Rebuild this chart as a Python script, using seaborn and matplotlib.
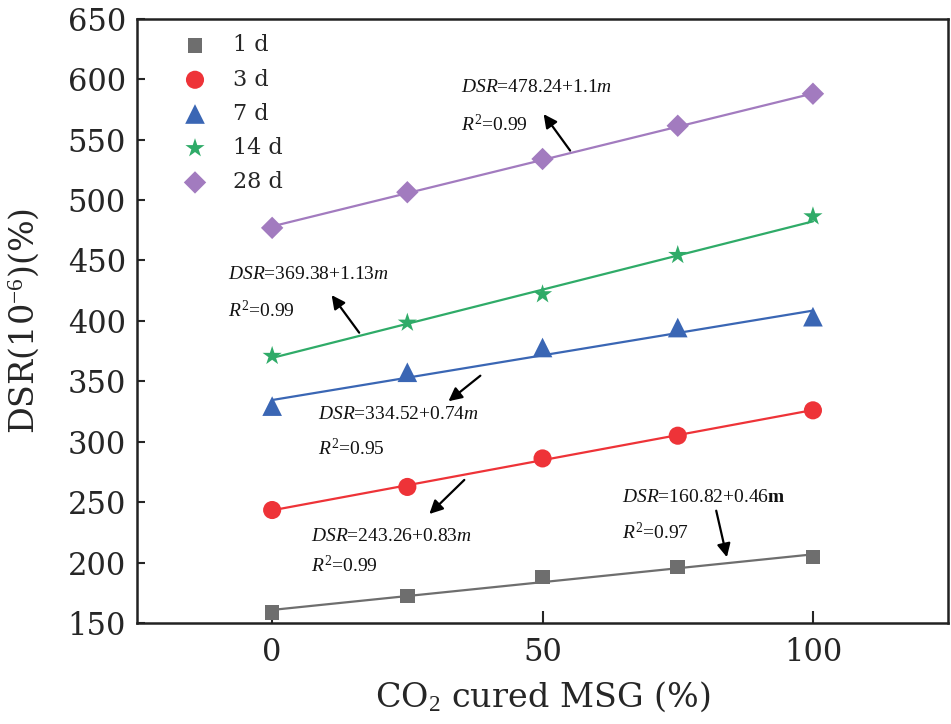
import numpy as np
import pandas as pd
import seaborn as sns
import matplotlib.pyplot as plt

# data
ages = ["1 d", "3 d", "7 d", "14 d", "28 d"]
msg = [0, 25, 50, 75, 100]
dsr_1d = [158.5, 172.4, 188.1, 196.4, 204.8]
dsr_3d = [243.5, 262.6, 286.2, 305.0, 326.0]
dsr_7d = [329.5, 357.5, 378.0, 394.5, 403.5]
dsr_14d = [371.0, 398.5, 422.0, 454.5, 486.5]
dsr_28d = [477.0, 506.5, 534.0, 561.5, 588.0]
intercepts = [160.82, 243.26, 334.52, 369.38, 478.24]
slopes = [0.46, 0.83, 0.74, 1.13, 1.1]
r2 = ["0.97", "0.99", "0.95", "0.99", "0.99"]

colors = ["#6e6e6e", "#ee3338", "#3a66b4", "#2fab68", "#a27bbf"]
markers = ["s", "o", "^", "*", "D"]
sizes = [110, 170, 200, 210, 130]

sns.set_theme(style="white")
plt.rcParams["font.family"] = ["DejaVu Serif"]
plt.rcParams["mathtext.fontset"] = "custom"
plt.rcParams["mathtext.rm"] = "Liberation Serif"
plt.rcParams["mathtext.it"] = "Liberation Serif:italic"
plt.rcParams["mathtext.bf"] = "Liberation Serif:bold"

df = pd.DataFrame({
    "MSG": msg * 5,
    "DSR": dsr_1d + dsr_3d + dsr_7d + dsr_14d + dsr_28d,
    "Age": [a for a in ages for _ in msg],
})

fig = plt.figure(figsize=(9.51, 7.24), dpi=100)
ax = fig.add_axes([0.144, 0.1395, 0.853, 0.8345])

# fitted lines
for i, a in enumerate(ages):
    xs = np.array([0, 100])
    sns.lineplot(x=xs, y=intercepts[i] + slopes[i] * xs, color=colors[i],
                 lw=1.6, ax=ax, zorder=2)

# points
for i, a in enumerate(ages):
    sub = df[df["Age"] == a]
    sns.scatterplot(data=sub, x="MSG", y="DSR", color=colors[i], marker=markers[i],
                    s=sizes[i], edgecolor="none", label=a, ax=ax, zorder=3)

ax.set_xlim(-25, 125)
ax.set_ylim(150, 650)
ax.set_xticks([0, 50, 100])
ax.set_yticks(np.arange(150, 651, 50))
ax.tick_params(axis="x", direction="in", length=9, width=1.5, labelsize=22, pad=10, bottom=True)
ax.tick_params(axis="y", direction="in", length=6, width=1.5, labelsize=22, pad=8, left=True)
for sp in ax.spines.values():
    sp.set_linewidth(1.8)
    sp.set_color("#222222")
ax.set_xlabel("CO$_2$ cured MSG (%)", fontsize=24, labelpad=8)
ax.set_ylabel("DSR(10$^{\\mathrm{-6}}$)(%)", fontsize=24, labelpad=18)

ax.legend(loc="upper left", bbox_to_anchor=(0.025, 1.0), frameon=False, fontsize=16,
          handletextpad=0.7, labelspacing=0.55, borderaxespad=0.3)

# annotations: (text x, eq y, r2 y, arrow tail, arrow head)
ann = [
    (64.6, 253.5, 224.5, (82.0, 245.2), (84.2, 202.2), r"$\mathit{DSR}$=160.82+0.46$\mathbf{m}$"),
    (7.2, 222.0, 197.2, (35.9, 270.0), (28.7, 238.6), r"$\mathit{DSR}$=243.26+0.83$\mathit{m}$"),
    (8.5, 322.2, 294.0, (38.9, 356.1), (32.2, 332.1), r"$\mathit{DSR}$=334.52+0.74$\mathit{m}$"),
    (-8.1, 438.0, 408.3, (16.4, 388.4), (10.7, 423.2), r"$\mathit{DSR}$=369.38+1.13$\mathit{m}$"),
    (35.0, 592.9, 562.3, (55.4, 539.1), (49.9, 573.0), r"$\mathit{DSR}$=478.24+1.1$\mathit{m}$"),
]
for i, (tx, ty, ry, tail, head, eq) in enumerate(ann):
    ax.text(tx, ty, eq, fontsize=14, va="center", ha="left", color="#111111",
            family="Liberation Serif")
    ax.text(tx, ry, r"$\mathit{R}^2$=" + r2[i], fontsize=14, va="center", ha="left",
            color="#111111", family="Liberation Serif")
    ax.annotate("", xy=head, xytext=tail,
                arrowprops=dict(arrowstyle="-|>", color="black", lw=1.6, mutation_scale=20))

fig.savefig("out.png", dpi=100)
